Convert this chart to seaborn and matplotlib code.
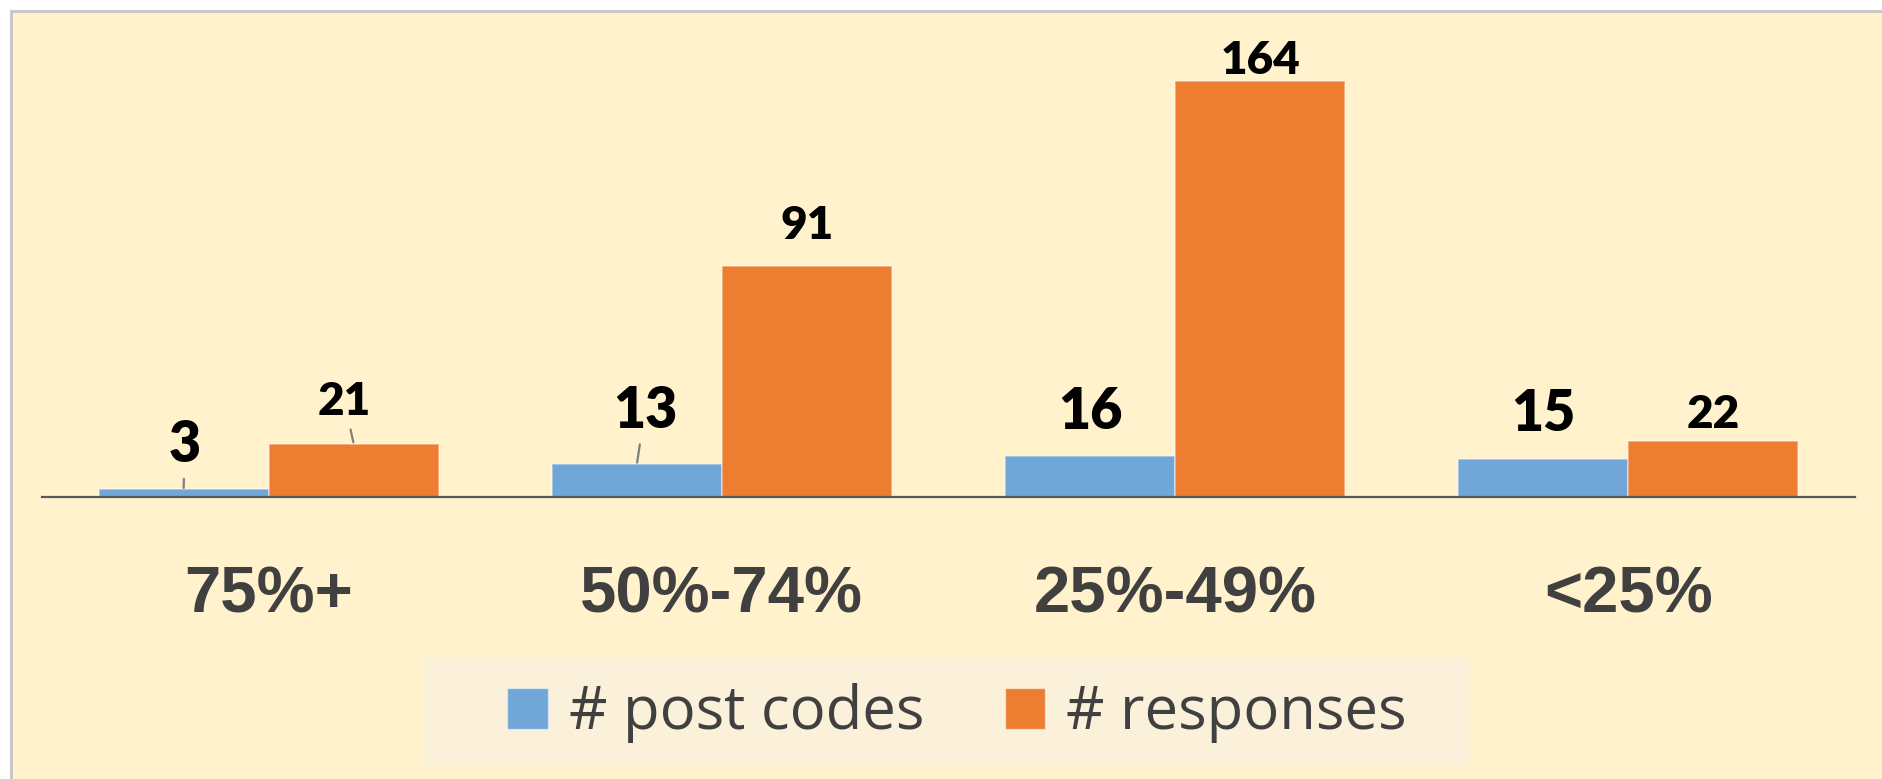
import seaborn as sns
import pandas as pd
import matplotlib.pyplot as plt
from matplotlib.patches import Rectangle, Patch

# data
bands = ['75%+', '50%-74%', '25%-49%', '<25%']
post_codes = [3, 13, 16, 15]
responses = [21, 91, 164, 22]
series_names = ['# post codes', '# responses']

# label placement (pixel offsets from bar top), excel put some labels off to the side
post_offsets = [(1, 44), (8, 53), (0, 44), (0, 45)]
resp_offsets = [(-9, 42), (0, 40), (0, 20), (0, 27)]
leader = [[True, True, False, False], [True, False, False, False]]

blue = '#70A6D8'
orange = '#ED7D31'
bg = '#FFF2CC'
grey_txt = '#404040'

df = pd.DataFrame({
    'band': bands * 2,
    'count': post_codes + responses,
    'series': [series_names[0]] * 4 + [series_names[1]] * 4,
})

sns.set_theme(style='white')
W, H = 1883, 779
fig = plt.figure(figsize=(W / 100, H / 100), dpi=100, facecolor='white')

# chart area background with grey border
fig.patches.append(Rectangle((11 / W, -0.1), 1.1, 1 - 11 / H + 0.1, transform=fig.transFigure,
                             facecolor=bg, edgecolor='#C8C8C8', linewidth=2.2, zorder=-2))
# legend background
fig.patches.append(Rectangle((423 / W, 1 - 766 / H), (1470 - 423) / W, 108 / H, transform=fig.transFigure,
                             facecolor='#FBF1DA', edgecolor='none', zorder=-1))

ax = fig.add_axes([42 / W, 1 - 497 / H, (1855 - 42) / W, (497 - 12) / H])
ax.set_facecolor('none')

sns.barplot(df, x='band', y='count', hue='series', order=bands, hue_order=series_names,
            palette=[blue, orange], width=0.75, saturation=1, legend=False,
            edgecolor=(1, 1, 1, 0.45), linewidth=1.2, ax=ax)

ax.set_xlim(-0.5, 3.5)
ax.set_ylim(0, 191)
ax.set_xlabel('')
ax.set_ylabel('')
ax.set_yticks([])
for s in ['top', 'left', 'right']:
    ax.spines[s].set_visible(False)
ax.spines['bottom'].set_color('#595959')
ax.spines['bottom'].set_linewidth(1.6)
ax.tick_params(axis='x', length=0, pad=49)
for t in ax.get_xticklabels():
    t.set_fontfamily('Liberation Sans')
    t.set_fontweight('bold')
    t.set_fontsize(47)
    t.set_color(grey_txt)

# data labels
sizes = [40, 33]
for k, (cont, offs) in enumerate(zip(ax.containers, [post_offsets, resp_offsets])):
    for i, bar in enumerate(cont):
        x = bar.get_x() + bar.get_width() / 2
        y = bar.get_height()
        arrow = dict(arrowstyle='-', color='#7F7F7F', lw=1.6, shrinkA=3, shrinkB=1) if leader[k][i] else None
        ax.annotate(f'{int(y)}', xy=(x, y), xytext=offs[i], textcoords='offset pixels',
                    ha='center', va='center', fontsize=sizes[k], fontweight='heavy',
                    fontfamily='Lato', color='black', arrowprops=arrow)

handles = [Patch(facecolor=blue, edgecolor=(1, 1, 1, 0.5)), Patch(facecolor=orange, edgecolor=(1, 1, 1, 0.5))]
fig.legend(handles, series_names, loc='center', bbox_to_anchor=(957 / W, 1 - 713 / H), ncol=2,
           frameon=False, prop={'family': 'Open Sans', 'size': 43}, labelcolor=grey_txt,
           handlelength=0.68, handleheight=0.68, handletextpad=0.35, columnspacing=1.35)

fig.savefig('out.png', dpi=100, facecolor='white')
